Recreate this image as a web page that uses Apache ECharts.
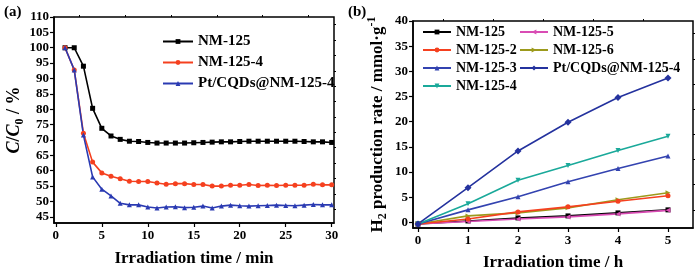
<!DOCTYPE html>
<html>
<head>
<meta charset="utf-8">
<script src="https://cdn.jsdelivr.net/npm/echarts@6/dist/echarts.min.js"></script>
<style>
  html, body { margin: 0; padding: 0; background: #fff; }
  #chart { width: 700px; height: 276px; }
</style>
</head>
<body>
<div id="chart"></div>
<script>
// panel (a): photodegradation, C/C0 vs time (min)
var timeMin = [1,2,3,4,5,6,7,8,9,10,11,12,13,14,15,16,17,18,19,20,21,22,23,24,25,26,27,28,29,30]
var nm125 = [100,100,94,80.3,73.8,71.3,70.2,69.6,69.5,69.2,69.0,69.0,69.0,69.0,69.1,69.2,69.3,69.4,69.4,69.5,69.6,69.6,69.6,69.6,69.6,69.6,69.5,69.4,69.4,69.2]
var nm125_4 = [100,92.8,72.2,62.8,59.3,58.2,57.4,56.6,56.5,56.5,56.0,55.6,55.8,55.8,55.5,55.5,55.0,55.0,55.3,55.3,55.5,55.2,55.3,55.2,55.3,55.3,55.3,55.6,55.4,55.4]
var ptNm125_4 = [100,92.8,71.6,58.0,54.0,51.8,49.4,48.9,48.9,48.2,47.9,48.2,48.3,48.0,48.1,48.5,47.9,48.5,48.8,48.6,48.5,48.6,48.7,48.8,48.7,48.6,48.8,49.0,48.9,48.9]

// panel (b): H2 production vs time (h)
var timeH = [0,1,2,3,4,5]
var h2_nm125 = [-0.3,0.3,0.9,1.3,1.9,2.5]
var h2_nm125_2 = [-0.3,0.7,2.1,3.1,4.2,5.3]
var h2_nm125_3 = [-0.3,2.5,5.1,8.1,10.7,13.2]
var h2_nm125_4 = [-0.3,3.7,8.4,11.3,14.3,17.1]
var h2_nm125_5 = [-0.3,0.2,0.7,1.1,1.7,2.4]
var h2_nm125_6 = [-0.3,1.3,1.9,2.9,4.5,5.9]
var h2_pt = [-0.3,6.9,14.2,19.9,24.8,28.7]

// tick labels
var ticksXa = [0,5,10,15,20,25,30]
var minorXa = [2.5,7.5,12.5,17.5,22.5,27.5]
var ticksYa = [45,50,55,60,65,70,75,80,85,90,95,100,105,110]
var minorYa = [47.5,52.5,57.5,62.5,67.5,72.5,77.5,82.5,87.5,92.5,97.5,102.5,107.5]
var ticksXb = [0,1,2,3,4,5]
var minorXb = [0.5,1.5,2.5,3.5,4.5]
var ticksYb = [0,5,10,15,20,25,30,35,40]
var minorYb = [2.5,7.5,12.5,17.5,22.5,27.5,32.5,37.5]

var FONT = '"Liberation Serif", "DejaVu Serif", serif'

function pairs(xs, ys) {
  return xs.map(function (x, i) { return [x, ys[i]] })
}

function mainAxis(gi, min, max, ticks, isY) {
  return {
    type: 'value',
    gridIndex: gi,
    min: min,
    max: max,
    splitLine: { show: false },
    axisLine: { onZero: false, lineStyle: { color: '#000', width: 1.5 } },
    axisTick: { inside: false, length: 4, customValues: ticks, lineStyle: { color: '#000', width: 1.2 } },
    axisLabel: {
      customValues: ticks,
      color: '#000',
      fontFamily: FONT,
      fontWeight: 'bold',
      fontSize: 13,
      margin: isY ? 5 : 6
    }
  }
}

function minorAxis(gi, min, max, ticks) {
  return {
    type: 'value',
    gridIndex: gi,
    min: min,
    max: max,
    splitLine: { show: false },
    axisLine: { show: false, onZero: false },
    axisTick: { inside: false, length: 2, customValues: ticks, lineStyle: { color: '#000', width: 1 } },
    axisLabel: { show: false }
  }
}

function line(name, data, color, symbol, rotate, xi, yi) {
  return {
    name: name,
    type: 'line',
    xAxisIndex: xi,
    yAxisIndex: yi,
    data: data,
    symbol: symbol,
    symbolSize: symbol === 'diamond' ? 7 : 5,
    symbolRotate: rotate,
    color: color,
    lineStyle: { width: 1.6, color: color },
    itemStyle: { color: color },
    animation: false
  }
}

var chart = echarts.init(document.getElementById('chart'))

var xa = mainAxis(0, -0.2, 30.25, ticksXa, false)
xa.name = 'Irradiation time / min'
xa.nameLocation = 'middle'
xa.nameGap = 27
xa.nameTextStyle = { color: '#000', fontFamily: FONT, fontWeight: 'bold', fontSize: 17 }

var ya = mainAxis(0, 43, 110, ticksYa, true)
ya.name = '{i|C}{n|/}{i|C}{s|0}{n| / %}'
ya.nameLocation = 'middle'
ya.nameGap = 25
ya.nameTextStyle = {
  color: '#000',
  fontFamily: FONT,
  fontSize: 18,
  rich: {
    i: { fontFamily: FONT, fontStyle: 'italic', fontWeight: 'bold', fontSize: 18, color: '#000', lineHeight: 22 },
    n: { fontFamily: FONT, fontWeight: 'bold', fontSize: 18, color: '#000', lineHeight: 22 },
    s: { fontFamily: FONT, fontWeight: 'bold', fontSize: 12, color: '#000', verticalAlign: 'bottom', lineHeight: 22 }
  }
}

var xb = mainAxis(1, -0.1, 5.5, ticksXb, false)
xb.name = 'Irradiation time / h'
xb.nameLocation = 'middle'
xb.nameGap = 26
xb.nameTextStyle = { color: '#000', fontFamily: FONT, fontWeight: 'bold', fontSize: 17 }

var yb = mainAxis(1, -1.1, 40, ticksYb, true)
yb.name = '{n|H}{s|2}{n| production rate / mmol·g}{p|-1}'
yb.nameLocation = 'middle'
yb.nameGap = 24
yb.nameTextStyle = {
  color: '#000',
  fontFamily: FONT,
  fontSize: 17,
  rich: {
    n: { fontFamily: FONT, fontWeight: 'bold', fontSize: 17, color: '#000', lineHeight: 23 },
    s: { fontFamily: FONT, fontWeight: 'bold', fontSize: 12, color: '#000', verticalAlign: 'bottom', lineHeight: 23 },
    p: { fontFamily: FONT, fontWeight: 'bold', fontSize: 12, color: '#000', verticalAlign: 'top', lineHeight: 23 }
  }
}

var legendText = { color: '#000', fontFamily: FONT, fontWeight: 'bold', fontSize: 15 }
var legendTextB = { color: '#000', fontFamily: FONT, fontWeight: 'bold', fontSize: 14 }

chart.setOption({
  backgroundColor: '#fff',
  animation: false,
  grid: [
    { left: 54, top: 17, width: 280, height: 206, show: true, borderColor: '#000', borderWidth: 1.5, backgroundColor: 'transparent' },
    { left: 413, top: 21, width: 280, height: 207, show: true, borderColor: '#000', borderWidth: 1.5, backgroundColor: 'transparent' }
  ],
  xAxis: [
    xa,
    xb,
    minorAxis(0, -0.2, 30.25, minorXa),
    minorAxis(1, -0.1, 5.5, minorXb)
  ],
  yAxis: [
    ya,
    yb,
    minorAxis(0, 43, 110, minorYa),
    minorAxis(1, -1.1, 40, minorYb)
  ],
  legend: [
    {
      orient: 'vertical',
      left: 157,
      top: 29,
      itemWidth: 30,
      itemHeight: 6,
      itemGap: 6,
      textStyle: legendText,
      data: ['NM-125', 'NM-125-4', 'Pt/CQDs@NM-125-4 ']
    },
    {
      orient: 'vertical',
      left: 417,
      top: 20,
      itemWidth: 28,
      itemHeight: 6,
      itemGap: 4,
      textStyle: legendTextB,
      data: ['NM-125 ', 'NM-125-2', 'NM-125-3', 'NM-125-4 ']
    },
    {
      orient: 'vertical',
      left: 514,
      top: 20,
      itemWidth: 28,
      itemHeight: 6,
      itemGap: 4,
      textStyle: legendTextB,
      data: ['NM-125-5', 'NM-125-6', 'Pt/CQDs@NM-125-4']
    }
  ],
  graphic: [
    { type: 'text', left: 4, top: 5, style: { text: '(a)', font: 'bold 15px ' + FONT, fill: '#000' } },
    { type: 'text', left: 348, top: 5, style: { text: '(b)', font: 'bold 15px ' + FONT, fill: '#000' } }
  ],
  series: [
    line('NM-125', pairs(timeMin, nm125), '#000000', 'rect', 0, 0, 0),
    line('NM-125-4', pairs(timeMin, nm125_4), '#f5401f', 'circle', 0, 0, 0),
    line('Pt/CQDs@NM-125-4 ', pairs(timeMin, ptNm125_4), '#2a3ab2', 'triangle', 0, 0, 0),

    line('NM-125 ', pairs(timeH, h2_nm125), '#000000', 'rect', 0, 1, 1),
    line('NM-125-5', pairs(timeH, h2_nm125_5), '#d94cb4', 'triangle', 90, 1, 1),
    line('NM-125-6', pairs(timeH, h2_nm125_6), '#9c9a1c', 'triangle', -90, 1, 1),
    line('NM-125-2', pairs(timeH, h2_nm125_2), '#f5401f', 'circle', 0, 1, 1),
    line('NM-125-3', pairs(timeH, h2_nm125_3), '#3343b0', 'triangle', 0, 1, 1),
    line('NM-125-4 ', pairs(timeH, h2_nm125_4), '#1aa99a', 'triangle', 180, 1, 1),
    line('Pt/CQDs@NM-125-4', pairs(timeH, h2_pt), '#24329e', 'diamond', 0, 1, 1)
  ]
})
</script>
</body>
</html>
